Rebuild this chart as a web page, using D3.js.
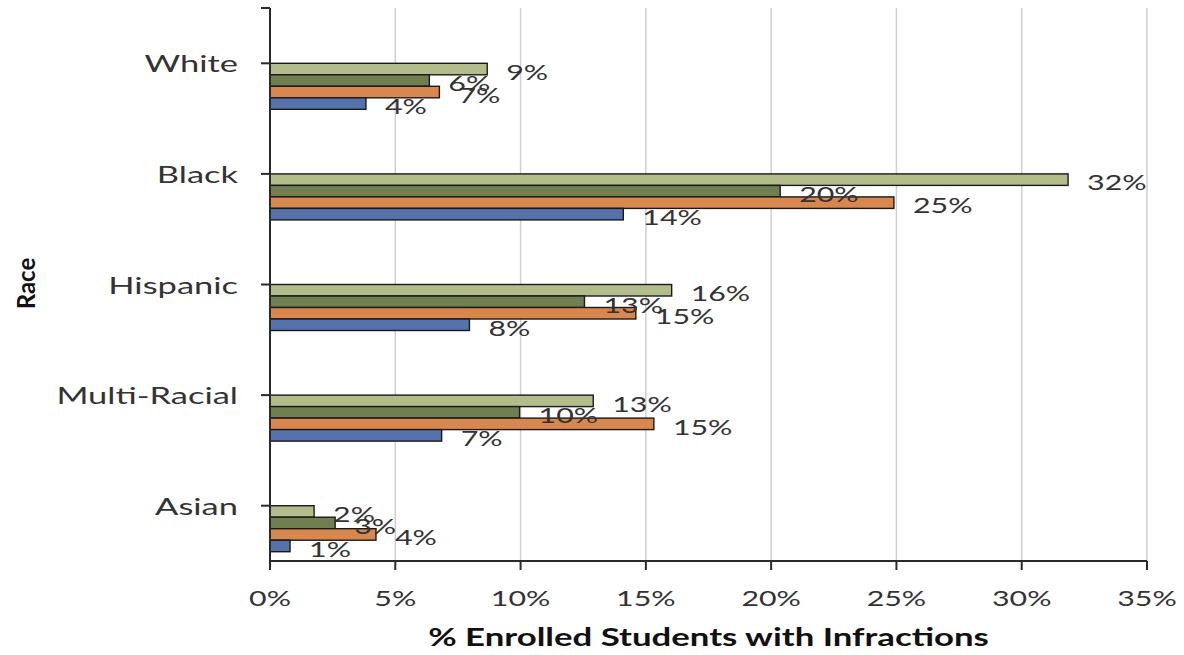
<!DOCTYPE html>
<html>
<head>
<meta charset="utf-8">
<script src="https://cdn.jsdelivr.net/npm/d3@7"></script>
<style>
  html, body { margin: 0; padding: 0; background: #ffffff; }
  svg { display: block; }
</style>
</head>
<body>
<svg id="chart" width="1184" height="655"></svg>
<script>
// Share of enrolled students with infractions, by race (four series per group)
const categories = ["White", "Black", "Hispanic", "Multi-Racial", "Asian"];
const seriesNames = ["Series A", "Series B", "Series C", "Series D"];
// values in percent, listed per series in category order
const seriesA = [8.67, 31.85, 16.03, 12.9, 1.76];   // light green (top bar)
const seriesB = [6.36, 20.36, 12.55, 9.96, 2.6];    // dark green
const seriesC = [6.76, 24.9, 14.6, 15.32, 4.23];    // orange
const seriesD = [3.83, 14.1, 7.96, 6.85, 0.8];      // blue (bottom bar)
const xTicks = [0, 5, 10, 15, 20, 25, 30, 35];
const xTitle = "% Enrolled Students with Infractions";
const yTitle = "Race";

const seriesValues = [seriesA, seriesB, seriesC, seriesD];
const colors = ["#b3bd8c", "#6f7f4f", "#d8874f", "#5572ad"];

const svg = d3.select("#chart");
const FONT = "Lato, 'Open Sans', sans-serif";
const SX = 1.42;           // horizontal stretch applied to labels

const plot = { left: 270, right: 1147, top: 8, bottom: 561 };

const x = d3.scaleLinear().domain([0, 35]).range([plot.left, plot.right]);
const y = d3.scaleBand().domain(categories).range([plot.top, plot.bottom]).paddingInner(0).paddingOuter(0);
const barH = 11.5;
const yInner = d3.scaleBand().domain(seriesNames)
  .range([0, barH * seriesNames.length]).padding(0);

function label(parent, tx, ty, text, opts) {
  const g = parent.append("g")
    .attr("transform", `translate(${tx},${ty}) scale(${opts.sx || SX},1)` + (opts.rotate ? ` rotate(${opts.rotate})` : ""));
  g.append("text")
    .attr("x", 0).attr("y", 0)
    .attr("text-anchor", opts.anchor || "start")
    .attr("dominant-baseline", "central")
    .attr("font-family", FONT)
    .attr("font-size", opts.size)
    .attr("font-weight", opts.weight || "normal")
    .attr("fill", opts.fill || "#404040")
    .text(text);
  return g;
}

// vertical gridlines
svg.append("g").selectAll("line")
  .data(xTicks.filter(t => t > 0))
  .join("line")
  .attr("x1", d => x(d)).attr("x2", d => x(d))
  .attr("y1", plot.top).attr("y2", plot.bottom)
  .attr("stroke", "#cfcfcf").attr("stroke-width", 1.5);

// bars
const groups = svg.append("g").selectAll("g")
  .data(categories)
  .join("g")
  .attr("transform", c => `translate(0,${y(c) + y.bandwidth() / 2})`);

groups.each(function (c, ci) {
  const g = d3.select(this);
  seriesNames.forEach((s, si) => {
    const v = seriesValues[si][ci];
    g.append("rect")
      .attr("x", x(0))
      .attr("y", yInner(s))
      .attr("width", x(v) - x(0))
      .attr("height", yInner.bandwidth())
      .attr("fill", colors[si])
      .attr("stroke", "#1a1a1a")
      .attr("stroke-width", 1.4);
  });
});

// data labels
groups.each(function (c, ci) {
  const g = d3.select(this);
  seriesNames.forEach((s, si) => {
    const v = seriesValues[si][ci];
    label(g, x(v) + 19, yInner(s) + yInner.bandwidth() / 2 + 2.5,
      d3.format(".0f")(v) + "%", { size: 22, fill: "#333333", sx: 1.38 });
  });
});

// axes
const axisColor = "#2a2a2a";
svg.append("line")
  .attr("x1", plot.left).attr("x2", plot.left)
  .attr("y1", plot.top).attr("y2", plot.bottom + 9)
  .attr("stroke", axisColor).attr("stroke-width", 2);
svg.append("line")
  .attr("x1", plot.left).attr("x2", plot.right)
  .attr("y1", plot.bottom).attr("y2", plot.bottom)
  .attr("stroke", axisColor).attr("stroke-width", 2);

// y ticks at the plot top and at each category centre
const yTickPos = [plot.top].concat(categories.map(c => y(c) + y.bandwidth() / 2));
svg.append("g").selectAll("line")
  .data(yTickPos)
  .join("line")
  .attr("x1", plot.left - 9).attr("x2", plot.left)
  .attr("y1", d => d).attr("y2", d => d)
  .attr("stroke", axisColor).attr("stroke-width", 2);

// x ticks
svg.append("g").selectAll("line")
  .data(xTicks)
  .join("line")
  .attr("x1", d => x(d)).attr("x2", d => x(d))
  .attr("y1", plot.bottom).attr("y2", plot.bottom + 9)
  .attr("stroke", axisColor).attr("stroke-width", 2);

// x tick labels
xTicks.forEach(t => {
  label(svg, x(t), 598, t + "%", { size: 22, anchor: "middle", fill: "#333333", sx: 1.38 });
});

// category labels
categories.forEach(c => {
  label(svg, 238, y(c) + y.bandwidth() / 2, c, { size: 23, anchor: "end", fill: "#333333", sx: 1.5 });
});

// axis titles
label(svg, (plot.left + plot.right) / 2, 636, xTitle, { size: 25, anchor: "middle", weight: "bold", fill: "#111", sx: 1.39 });
label(svg, 25, (plot.top + plot.bottom) / 2 - 1, yTitle, { size: 24, anchor: "middle", weight: "bold", fill: "#111", sx: 1.05, rotate: -90 });
</script>
</body>
</html>
